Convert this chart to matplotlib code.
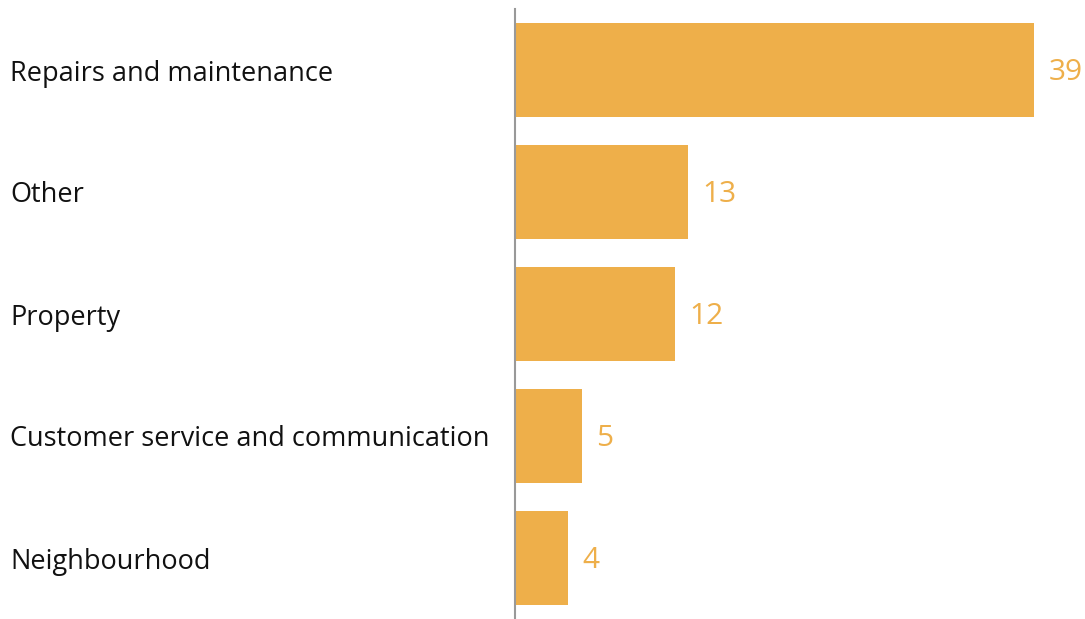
import matplotlib.pyplot as plt

categories = ["Repairs and maintenance", "Other", "Property",
              "Customer service and communication", "Neighbourhood"]
values = [39, 13, 12, 5, 4]

bar_color = "#EEAF4A"

plt.rcParams['font.family'] = ['Open Sans', 'DejaVu Sans']

fig = plt.figure(figsize=(10.85, 6.19), dpi=100)
ax = fig.add_axes([515 / 1085, 0, 570 / 1085, 610 / 619])

ypos = list(range(len(categories)))
ax.barh(ypos, values, height=0.77, color=bar_color)
ax.set_xlim(0, 570 / 13.3)
ax.set_ylim(len(categories) - 0.5, -0.5)

for y, v in zip(ypos, values):
    ax.annotate(str(v), (v, y), xytext=(10.5, -2), textcoords="offset points",
                ha="left", va="center", fontsize=21.5, color=bar_color)

ax.set_yticks(ypos)
ax.set_yticklabels(categories, ha="left", fontsize=19.5, color="#111111")
ax.tick_params(axis="y", length=0, pad=505 * 0.72)
ax.set_xticks([])

for side in ["top", "right", "bottom"]:
    ax.spines[side].set_visible(False)
ax.spines["left"].set_color("#999999")
ax.spines["left"].set_linewidth(1.5)

fig.savefig("out.png", dpi=100)
